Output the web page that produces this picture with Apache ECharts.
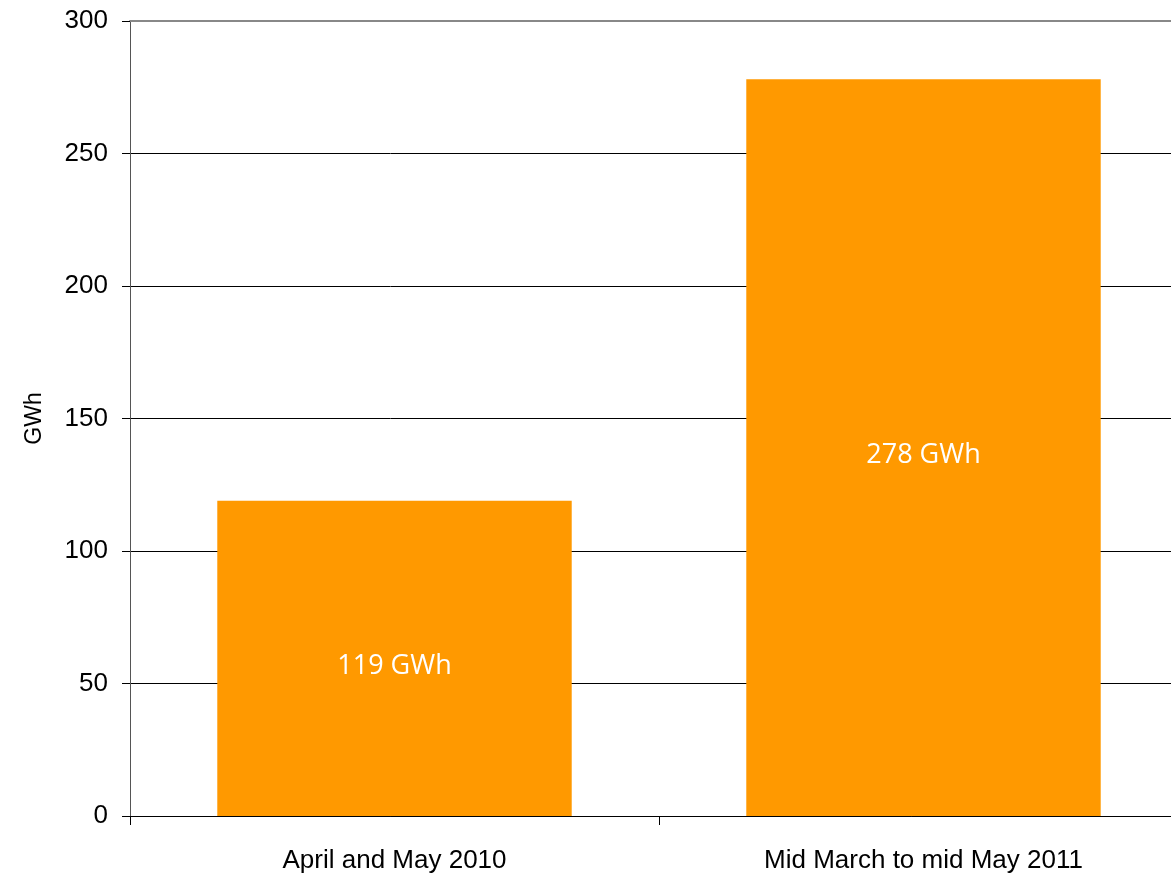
<!DOCTYPE html>
<html>
<head>
<meta charset="utf-8">
<script src="https://cdn.jsdelivr.net/npm/echarts@6/dist/echarts.min.js"></script>
<style>
  html, body { margin: 0; padding: 0; background: #fff; }
  #chart { width: 1171px; height: 877px; }
</style>
</head>
<body>
<div id="chart"></div>
<script>
var categories = ['April and May 2010', 'Mid March to mid May 2011'];
var energy = [119, 278];
var yTicks = { min: 0, max: 300, interval: 50 };

var font = '"Liberation Sans", Arial, sans-serif';

var chart = echarts.init(document.getElementById('chart'));
chart.setOption({
    animation: false,
    // plot runs past the right edge of the window, like the original
    grid: { left: 130, right: -17, top: 21, bottom: 61, outerBoundsMode: 'none', containLabel: false },
    xAxis: [
        {
            type: 'category',
            data: categories,
            axisLine: { lineStyle: { color: '#000', width: 1 } },
            axisTick: { show: true, length: 9, lineStyle: { color: '#000' } },
            axisLabel: { color: '#000', fontFamily: font, fontSize: 26, margin: 32 }
        },
        {
            type: 'category',
            position: 'top',
            data: categories,
            axisLine: { lineStyle: { color: '#888', width: 2 } },
            axisTick: { show: false },
            axisLabel: { show: false }
        }
    ],
    yAxis: {
        type: 'value',
        min: yTicks.min,
        max: yTicks.max,
        interval: yTicks.interval,
        name: 'GWh',
        nameLocation: 'middle',
        nameGap: 84,
        nameTextStyle: { color: '#000', fontFamily: font, fontSize: 23 },
        axisLine: { show: true, lineStyle: { color: '#555' } },
        axisTick: { show: true, length: 8, lineStyle: { color: '#000' } },
        axisLabel: { color: '#000', fontFamily: font, fontSize: 26, margin: 22 },
        splitLine: { lineStyle: { color: '#000', width: 1 } }
    },
    series: [{
        type: 'bar',
        data: energy,
        barWidth: '67%',
        itemStyle: { color: '#ff9900' },
        label: {
            show: true,
            position: 'inside',
            offset: [0, 8],
            formatter: '{c} GWh',
            color: '#fff',
            fontFamily: '"Open Sans", sans-serif',
            fontSize: 27
        }
    }]
});
</script>
</body>
</html>
